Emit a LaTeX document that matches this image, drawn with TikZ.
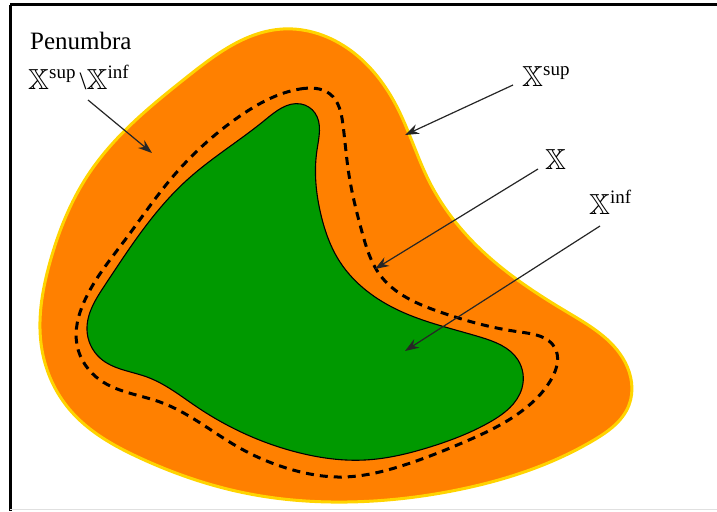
\documentclass[tikz,border=0pt]{standalone}
\usepackage{amssymb}
\usepackage{fontspec}
\setmainfont{Liberation Serif}
\usetikzlibrary{arrows.meta,hobby}
\definecolor{penorange}{RGB}{255,128,0}
\definecolor{supyellow}{RGB}{255,212,0}
\definecolor{infgreen}{RGB}{0,153,0}
\newcommand{\bbX}{{\fontsize{29}{29}\selectfont$\mathbb{X}$}}
\newcommand{\supx}[1]{\raisebox{0.42em}{\fontsize{19}{19}\selectfont #1}}
\begin{document}
\begin{tikzpicture}[x=1pt,y=-1pt,
  lbl/.style={inner sep=0pt,font=\fontsize{25}{28}\selectfont},
  pointer/.style={draw=black!85,line width=1.2pt,-{Stealth[length=14pt,width=10pt]}},
  supset/.style={fill=penorange,draw=supyellow,line width=3pt},
  infset/.style={fill=infgreen,draw=black,line width=1.1pt},
  xset/.style={draw=black,line width=3pt,dash pattern=on 8pt off 6pt}]
\useasboundingbox (0,0) rectangle (717,511);
% frame
\draw[line width=3pt] (10,5) -- (717,5);
\draw[line width=3pt] (10,5) -- (10,511);
\draw[line width=1pt,draw=black!12] (10,509.5) -- (717,509.5);
% X sup
\draw[supset,use Hobby shortcut,closed=true]
 (283,29) .. (350,50) .. (397,107) .. (430,183) .. (490,258) .. (567,312)
 .. (625,362) .. (629,405) .. (594,440) .. (457,490) .. (347,502) .. (250,494)
 .. (140,458) .. (70,410) .. (42,350) .. (50,262) .. (90,172) .. (187,77);
% X inf
\draw[infset,use Hobby shortcut,closed=true]
 (301,104) .. (315,113) .. (317,150) .. (321,215) .. (340,262) .. (400,311)
 .. (480,337) .. (518,360) .. (522,388) .. (490,422) .. (430,447) .. (365,460)
 .. (300,453) .. (197,407) .. (147,377) .. (100,358) .. (87,330) .. (105,285)
 .. (187,180) .. (265,120);
% X
\draw[xset,use Hobby shortcut,closed=true]
 (300,89) .. (330,94) .. (343,125) .. (349,175) .. (362,232) .. (380,275)
 .. (440,312) .. (520,332) .. (555,348) .. (552,378) .. (527,407) .. (462,443)
 .. (398,467) .. (343,477) .. (293,470) .. (238,447) .. (160,402) .. (100,380)
 .. (77,345) .. (84,302) .. (125,240) .. (170,180) .. (240,116);
% labels
\node[lbl,anchor=base west] (pen) at (30,50) {Penumbra};
\node[lbl,anchor=base west] (pendiff) at (28,89) {\bbX\supx{sup}\,\textbackslash\bbX\supx{inf}};
\node[lbl,anchor=base west] (lsup) at (522,86) {\bbX\supx{sup}};
\node[lbl,anchor=base west] (lx) at (545,169) {\bbX};
\node[lbl,anchor=base west] (linf) at (589,214) {\bbX\supx{inf}};
% pointers
\coordinate (penS) at (88,100);
\coordinate (penE) at (152,153);
\coordinate (supS) at (513,85);
\coordinate (supE) at (405,135);
\coordinate (xS) at (538,169);
\coordinate (xE) at (375,269);
\coordinate (infS) at (600,226);
\coordinate (infE) at (405,351);
\draw[pointer] (penS) -- (penE);
\draw[pointer] (supS) -- (supE);
\draw[pointer] (xS) -- (xE);
\draw[pointer] (infS) -- (infE);
\end{tikzpicture}
\end{document}
